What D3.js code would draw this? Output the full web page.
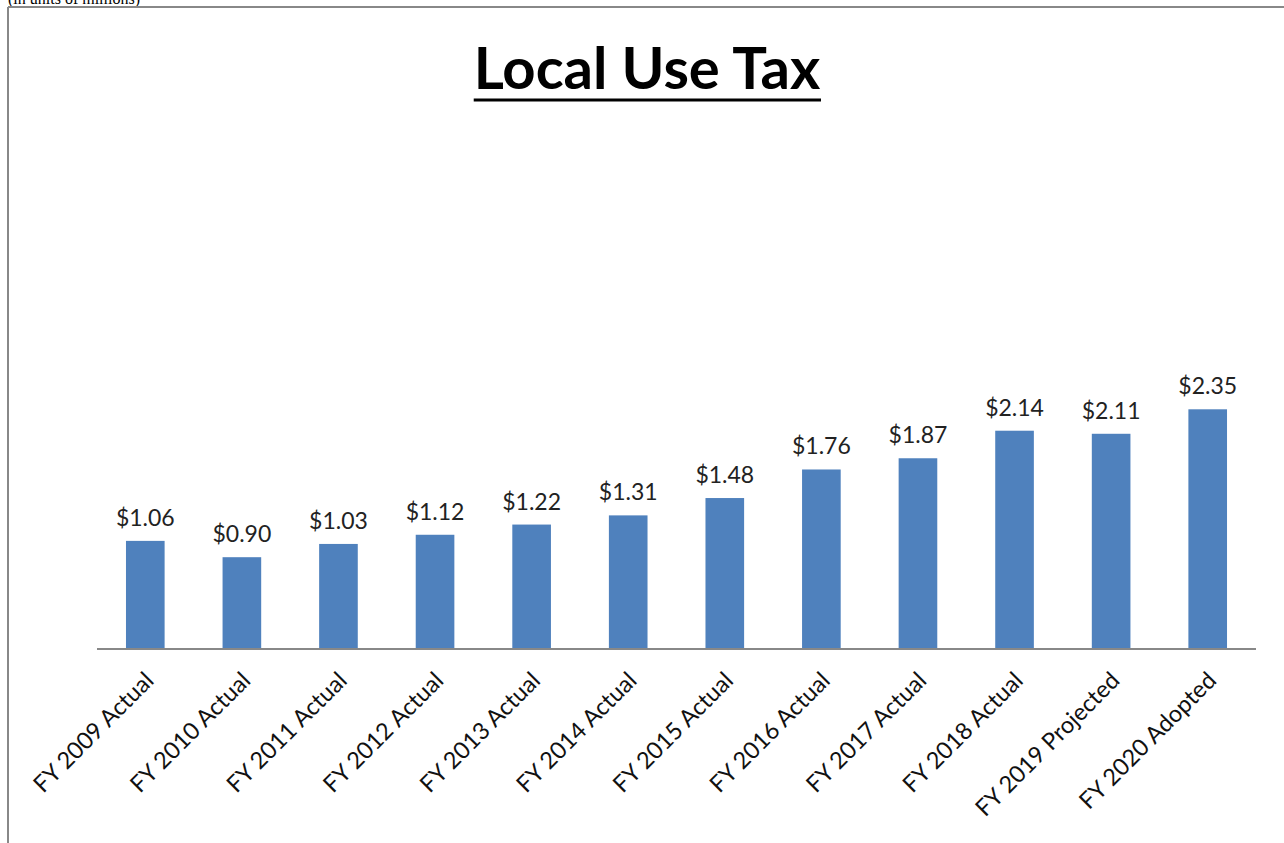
<!DOCTYPE html>
<meta charset="utf-8">
<style>
  body { margin: 0; background: #fff; }
  svg { position: absolute; top: 0; left: 0; }
  .note { font-family: 'Liberation Serif', 'DejaVu Serif', serif; font-size: 16px; fill: #000; }
  .title { font-family: 'Lato', 'Open Sans', sans-serif; font-weight: bold; font-size: 58px; text-anchor: middle; }
  .val { font-family: 'Lato', 'Open Sans', sans-serif; font-size: 23px; fill: #222; text-anchor: middle; }
  .xlab { font-family: 'Lato', 'Open Sans', sans-serif; font-size: 23.5px; fill: #111; text-anchor: end; }
</style>
<script src="https://d3js.org/d3.v7.min.js"></script>
<svg width="1284" height="843"></svg>
<script>
var categories = ["FY 2009 Actual", "FY 2010 Actual", "FY 2011 Actual", "FY 2012 Actual",
  "FY 2013 Actual", "FY 2014 Actual", "FY 2015 Actual", "FY 2016 Actual",
  "FY 2017 Actual", "FY 2018 Actual", "FY 2019 Projected", "FY 2020 Adopted"];
var values = [1.06, 0.90, 1.03, 1.12, 1.22, 1.31, 1.48, 1.76, 1.87, 2.14, 2.11, 2.35];

var svg = d3.select("svg");

// note cut off at top of the page
svg.append("text").attr("class", "note").attr("x", 8).attr("y", 4).text("(in units of millions)");

// frame: top and left edges only
svg.append("line").attr("x1", 8).attr("x2", 1284).attr("y1", 7).attr("y2", 7)
  .attr("stroke", "#888").attr("stroke-width", 2);
svg.append("line").attr("x1", 8).attr("x2", 8).attr("y1", 7).attr("y2", 843)
  .attr("stroke", "#888").attr("stroke-width", 2);

// title
var title = svg.append("text").attr("class", "title").attr("x", 647).attr("y", 89).text("Local Use Tax");
var tb = title.node().getBBox();
svg.append("line").attr("x1", tb.x).attr("x2", tb.x + tb.width).attr("y1", 100).attr("y2", 100)
  .attr("stroke", "#000").attr("stroke-width", 3);

var x = d3.scaleBand().domain(categories).range([97, 1256]).paddingInner(0.6).paddingOuter(0.3);
var y = d3.scaleLinear().domain([0, 2.5]).range([649, 394]);

svg.selectAll("rect.bar").data(values).enter().append("rect")
  .attr("class", "bar")
  .attr("x", function(d, i) { return x(categories[i]); })
  .attr("width", x.bandwidth())
  .attr("y", function(d) { return y(d); })
  .attr("height", function(d) { return y(0) - y(d); })
  .attr("fill", "#4f81bd");

svg.selectAll("text.val").data(values).enter().append("text")
  .attr("class", "val")
  .attr("x", function(d, i) { return x(categories[i]) + x.bandwidth() / 2; })
  .attr("y", function(d) { return y(d) - 15; })
  .text(function(d) { return "$" + d.toFixed(2); });

// axis line
svg.append("line").attr("x1", 97).attr("x2", 1256).attr("y1", 649).attr("y2", 649)
  .attr("stroke", "#888").attr("stroke-width", 2);

svg.selectAll("text.xlab").data(categories).enter().append("text")
  .attr("class", "xlab")
  .attr("transform", function(d) {
    return "translate(" + (x(d) + x.bandwidth() / 2 + 10) + ",682) rotate(-45)";
  })
  .text(function(d) { return d; });
</script>
